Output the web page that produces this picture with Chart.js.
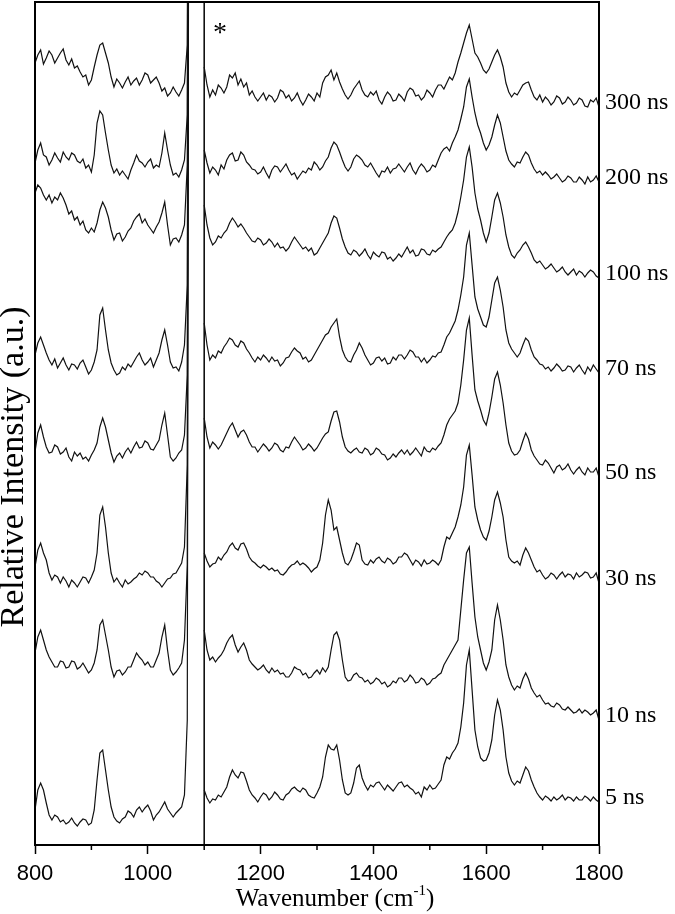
<!DOCTYPE html>
<html>
<head>
<meta charset="utf-8">
<script src="https://cdn.jsdelivr.net/npm/chart.js@4.4.0/dist/chart.umd.min.js"></script>
<style>
    html, body { margin: 0; padding: 0; background: #fff; }
    #wrap { width: 675px; height: 914px; }
</style>
</head>
<body>
<div id="wrap"><canvas id="myChart"></canvas></div>
<script>
// siatka liczb falowych (cm-1): 800-1065 co 5, zbocze pasma, przerwa 1087, potem 1100-1800 co 5
function range(a, b, step) {
    const out = [];
    for (let v = a; v <= b; v += step) out.push(v);
    return out;
}
const wavenumbers = [].concat(range(800, 1065, 5), [1070, 1074, 1087], range(1100, 1800, 5));

// intensywności (a.u., z przesunięciem pionowym)
const ns300 = [
    782, 790, 795, 781, 787, 794, 790, 782, 787, 792,
    796, 785, 780, 786, 777, 779, 773, 768, 770, 760,
    765, 778, 790, 800, 802, 792, 782, 768, 758, 766,
    762, 757, 763, 768, 760, 764, 767, 760, 765, 772,
    770, 762, 765, 768, 762, 754, 757, 749, 752, 758,
    753, 749, 755, 762, 800, 1500, null,
    778, 760, 748, 755, 750, 760, 757, 752, 758, 770,
    767, 772, 760, 766, 758, 762, 750, 754, 748, 744,
    748, 752, 745, 750, 748, 743, 747, 755, 753, 747,
    750, 744, 747, 752, 745, 740, 745, 751, 748, 744,
    752, 748, 762, 768, 770, 775, 765, 772, 763, 756,
    750, 746, 750, 756, 760, 764, 755, 750, 748, 753,
    750, 754, 745, 741, 748, 753, 750, 744, 745, 751,
    748, 744, 753, 757, 755, 749, 750, 745, 748, 755,
    752, 748, 755, 760, 760, 756, 762, 768, 765, 772,
    783, 792, 802, 812, 820, 806, 792, 788, 782, 775,
    772, 776, 783, 790, 795, 788, 778, 762, 753, 748,
    752, 750, 755, 760, 762, 763, 755, 748, 745, 750,
    743, 748, 745, 740, 743, 749, 747, 741, 743, 748,
    745, 740, 742, 747, 745, 739, 738, 745, 743, 747,
    738
];
const ns200 = [
    682, 695, 702, 690, 688, 680, 685, 692, 687, 683,
    693, 688, 685, 692, 690, 684, 682, 686, 677, 680,
    673, 690, 722, 734, 730, 712, 695, 680, 672, 676,
    670, 674, 670, 666, 675, 682, 690, 684, 682, 678,
    683, 686, 677, 680, 678, 692, 712, 695, 680, 670,
    672, 668, 675, 685, 730, 1500, null,
    695, 682, 672, 678, 675, 670, 680, 676, 685, 690,
    692, 684, 685, 693, 690, 683, 680, 676, 675, 671,
    673, 678, 672, 667, 675, 679, 678, 673, 677, 681,
    675, 670, 672, 666, 670, 674, 672, 677, 675, 683,
    680, 675, 678, 684, 688, 697, 703, 700, 693, 685,
    678, 674, 678, 686, 690, 688, 685, 680, 678, 682,
    677, 672, 668, 674, 673, 678, 672, 676, 677, 681,
    677, 673, 678, 682, 675, 671, 677, 681, 678, 673,
    675, 680, 678, 685, 692, 696, 698, 694, 702, 708,
    715, 726, 738, 758, 766, 748, 732, 720, 712, 702,
    695, 700, 708, 720, 730, 722, 708, 694, 685, 681,
    678, 683, 682, 688, 693, 690, 682, 676, 672, 674,
    670, 673, 670, 666, 668, 671, 667, 663, 665, 669,
    667, 663, 663, 668, 665, 661, 668, 663, 665, 669,
    663
];
const ns100 = [
    652, 660, 657, 650, 645, 650, 642, 648, 645, 652,
    647, 640, 631, 634, 625, 628, 620, 624, 615, 612,
    617, 613, 622, 635, 643, 637, 628, 615, 605, 611,
    612, 604, 608, 614, 617, 624, 628, 631, 622, 626,
    620, 616, 612, 618, 623, 632, 643, 620, 600, 606,
    607, 603, 610, 620, 680, 1500, null,
    640, 620, 607, 600, 603, 609, 607, 612, 615, 622,
    627, 623, 618, 621, 617, 612, 608, 604, 603, 607,
    605, 600, 602, 606, 603, 598, 602, 597, 598, 594,
    597, 603, 608, 604, 600, 596, 598, 594, 597, 590,
    592, 597, 602, 607, 612, 622, 629, 627, 617, 606,
    598, 592, 590, 595, 593, 589, 592, 596, 590, 586,
    593, 590, 588, 593, 592, 586, 588, 584, 587, 591,
    588, 593, 598, 592, 595, 589, 590, 596, 595, 591,
    590, 595, 593, 596, 598, 603, 608, 612, 615, 622,
    633, 648, 665, 688, 698, 678, 652, 636, 625, 612,
    603, 612, 628, 645, 652, 642, 628, 610, 598, 590,
    587, 592, 595, 600, 603, 598, 592, 585, 582, 584,
    580, 576, 578, 581, 577, 573, 575, 578, 573, 570,
    573, 576, 570, 574, 572, 568, 572, 575, 573, 569,
    567
];
const ns70 = [
    490, 502, 508, 500, 492, 485, 480, 486, 477, 482,
    487, 480, 475, 481, 480, 476, 482, 485, 478, 471,
    475, 483, 495, 530, 537, 515, 495, 482, 475, 470,
    472, 478, 475, 481, 478, 483, 488, 492, 485, 480,
    483, 487, 478, 485, 492, 505, 515, 500, 483, 477,
    478, 474, 483, 500, 560, 1500, null,
    522, 500, 485, 490, 487, 494, 492, 498, 502, 507,
    505, 500, 498, 504, 502, 496, 492, 487, 483, 488,
    485, 490, 487, 483, 488, 484, 485, 479, 482, 487,
    488, 493, 497, 494, 492, 486, 488, 483, 485, 490,
    495, 500, 505, 510, 512, 518, 522, 526, 508, 495,
    488, 484, 483, 490, 495, 502, 497, 490, 485, 480,
    482, 487, 488, 484, 487, 481, 482, 488, 485, 490,
    490, 486, 490, 495, 493, 488, 488, 483, 487, 482,
    485, 489, 488, 492, 493, 500, 508, 512, 518, 524,
    535, 550, 568, 600, 612, 580, 548, 536, 528, 520,
    518, 528, 545, 562, 568, 555, 538, 515, 502, 496,
    492, 488, 492, 500, 507, 504, 495, 488, 485, 481,
    480, 476, 478, 474, 477, 481, 478, 474, 475, 479,
    478, 473, 477, 480, 475, 471, 478, 474, 480, 476,
    472
];
const ns50 = [
    393, 412, 420, 408, 398, 392, 393, 400, 398, 391,
    393, 397, 388, 384, 393, 389, 392, 386, 388, 384,
    390, 395, 402, 418, 427, 418, 405, 392, 383, 389,
    392, 387, 393, 397, 392, 398, 403, 397, 398, 404,
    402, 396, 395, 400, 405, 420, 432, 410, 388, 384,
    387, 392, 395, 410, 470, 1500, null,
    427, 408, 397, 403, 400, 396, 400, 406, 412, 418,
    422, 415, 408, 413, 415, 410, 403, 398, 398, 393,
    397, 401, 398, 394, 397, 402, 400, 395, 393, 398,
    397, 403, 408, 404, 400, 395, 397, 401, 398, 394,
    397, 402, 407, 411, 413, 424, 433, 434, 423, 408,
    398, 394, 392, 395, 397, 393, 392, 397, 395, 390,
    392, 397, 395, 391, 390, 385, 387, 391, 388, 392,
    395, 391, 395, 390, 393, 397, 393, 389, 398, 394,
    393, 397, 395, 399, 402, 410, 420, 426, 430, 434,
    442, 460, 485, 515, 527, 490, 455, 444, 435, 425,
    420, 432, 448, 466, 473, 460, 442, 420, 402, 394,
    390, 391, 395, 404, 412, 406, 395, 389, 385, 381,
    380, 385, 382, 377, 372, 378, 380, 375, 377, 381,
    375, 371, 375, 378, 373, 370, 377, 373, 373, 377,
    368
];
const ns30 = [
    278, 295, 302, 292, 285, 272, 265, 270, 268, 262,
    268, 264, 258, 265, 262, 258, 263, 268, 267, 262,
    268, 275, 292, 330, 338, 318, 292, 272, 263, 267,
    262, 258, 265, 261, 263, 266, 268, 272, 270, 274,
    272, 268, 268, 264, 262, 258, 262, 266, 267, 271,
    272, 277, 282, 298, 380, 1500, null,
    292, 284, 278, 281, 282, 288, 285, 290, 293, 299,
    302, 297, 295, 301, 302, 296, 288, 284, 282, 279,
    277, 280, 278, 275, 277, 274, 275, 271, 270, 273,
    277, 280, 281, 284, 280, 282, 280, 277, 273, 276,
    278, 285, 302, 330, 345, 335, 315, 318, 305, 292,
    282, 280, 285, 293, 302, 300, 285, 281, 280, 285,
    282, 286, 288, 284, 282, 287, 285, 281, 283, 288,
    288, 292, 290, 285, 280, 285, 283, 279, 285, 281,
    282, 285, 283, 280, 285, 298, 308, 306, 312, 318,
    328, 340, 358, 390, 400, 370, 338, 325, 315, 308,
    305, 314, 328, 345, 353, 342, 328, 305, 288, 284,
    282, 284, 280, 290, 297, 292, 285, 278, 273, 275,
    270, 266, 268, 272, 270, 266, 270, 273, 268, 271,
    270, 266, 272, 268, 270, 273, 272, 267, 268, 272,
    262
];
const ns10 = [
    192, 208, 215, 205, 195, 188, 183, 178, 178, 184,
    183, 177, 178, 184, 183, 176, 178, 182, 177, 172,
    175, 182, 195, 220, 225, 210, 195, 178, 168, 174,
    175, 170, 173, 178, 178, 185, 192, 188, 185, 180,
    183, 178, 178, 185, 192, 208, 220, 195, 175, 170,
    173, 177, 182, 205, 280, 1500, null,
    215, 195, 185, 188, 183, 187, 190, 195, 202, 207,
    210, 200, 193, 198, 202, 195, 185, 181, 178, 175,
    177, 180, 175, 172, 177, 173, 175, 171, 172, 168,
    168, 172, 178, 176, 175, 170, 172, 167, 168, 172,
    175, 171, 177, 173, 178, 195, 210, 213, 205, 185,
    168, 164, 165, 170, 172, 168, 167, 163, 165, 161,
    163, 167, 165, 161, 163, 158, 160, 164, 162, 167,
    167, 163, 165, 170, 167, 162, 163, 167, 165, 160,
    162, 166, 167, 170, 172, 180, 185, 190, 195, 200,
    205, 235, 265, 292, 298, 262, 228, 208, 195, 182,
    175, 183, 195, 225, 240, 225, 205, 180, 168, 160,
    155, 159, 157, 166, 172, 166, 157, 152, 148, 150,
    145, 141, 142, 139, 138, 142, 140, 136, 135, 138,
    135, 132, 133, 136, 132, 135, 133, 130, 132, 135,
    125
];
const ns5 = [
    35, 55, 62, 55, 42, 30, 25, 30, 28, 23,
    25, 21, 23, 27, 22, 19, 23, 26, 25, 20,
    22, 35, 65, 92, 95, 75, 55, 38, 28, 24,
    22, 26, 28, 34, 32, 28, 35, 38, 33, 37,
    40, 34, 25, 30, 33, 38, 43, 36, 32, 28,
    32, 35, 38, 50, 125, 1500, null,
    55, 47, 42, 46, 45, 50, 48, 53, 58, 68,
    75, 70, 67, 73, 72, 64, 55, 50, 47, 43,
    48, 52, 50, 45, 48, 53, 50, 46, 45, 50,
    52, 56, 58, 55, 53, 57, 55, 50, 48, 47,
    52, 58, 68, 88, 100, 96, 95, 100, 85, 65,
    52, 50, 52, 62, 77, 80, 67, 60, 55, 60,
    58, 62, 63, 59, 55, 60, 57, 54, 58, 62,
    63, 58, 60, 57, 55, 51, 53, 48, 58, 55,
    60, 56, 57, 61, 65, 80, 88, 86, 92, 96,
    102, 118, 142, 180, 195, 155, 115, 98, 87, 84,
    85, 92, 105, 130, 145, 135, 115, 88, 72, 64,
    60, 64, 62, 70, 78, 74, 65, 58, 52, 48,
    45, 49, 47, 44, 48, 45, 47, 50, 45, 48,
    47, 44, 48, 45, 45, 49, 47, 44, 48, 45,
    43
];

const traceNames = ['300 ns', '200 ns', '100 ns', '70 ns', '50 ns', '30 ns', '10 ns', '5 ns'];
const traces = [ns300, ns200, ns100, ns70, ns50, ns30, ns10, ns5];
const breakAt = 1100;   // pionowa linia przerwy
const xTicksMajor = [800, 1000, 1200, 1400, 1600, 1800];
const xTicksMinor = [900, 1100, 1300, 1500, 1700];

const serif = '"Liberation Serif", "Times New Roman", serif';

// podpisy, ramka, tytuły osi
const decorPlugin = {
    id: 'decor',
    afterDraw(chart) {
        const ctx = chart.ctx;
        const a = chart.chartArea;
        const xs = chart.scales.x;
        const ys = chart.scales.y;
        ctx.save();
        ctx.strokeStyle = '#000';
        ctx.lineWidth = 2;
        ctx.strokeRect(a.left, a.top, a.right - a.left, a.bottom - a.top);

        // minor ticks
        ctx.lineWidth = 1.5;
        xTicksMinor.forEach(v => {
            const px = xs.getPixelForValue(v);
            ctx.beginPath();
            ctx.moveTo(px, a.bottom);
            ctx.lineTo(px, a.bottom + 5);
            ctx.stroke();
        });

        ctx.fillStyle = '#000';
        // etykiety serii po prawej
        ctx.font = '24px ' + serif;
        ctx.textAlign = 'left';
        ctx.textBaseline = 'middle';
        traces.forEach((t, i) => {
            const py = ys.getPixelForValue(t[t.length - 1]) - 4;
            ctx.fillText(traceNames[i], a.right + 6, py);
        });

        // gwiazdka
        ctx.font = '28px ' + serif;
        ctx.textAlign = 'center';
        ctx.textBaseline = 'top';
        ctx.fillText('*', xs.getPixelForValue(1128), a.top + 18);

        // tytuł osi X z indeksem górnym
        const mainFont = '25px ' + serif;
        const supFont = '15px ' + serif;
        ctx.textBaseline = 'alphabetic';
        ctx.textAlign = 'left';
        ctx.font = mainFont;
        const p1 = 'Wavenumber (cm', p3 = ')';
        const w1 = ctx.measureText(p1).width;
        const w3 = ctx.measureText(p3).width;
        ctx.font = supFont;
        const w2 = ctx.measureText('-1').width;
        let x0 = (a.left + a.right) / 2 + 18 - (w1 + w2 + w3) / 2;
        const base = 906;
        ctx.font = mainFont;
        ctx.fillText(p1, x0, base);
        ctx.font = supFont;
        ctx.fillText('-1', x0 + w1, base - 11);
        ctx.font = mainFont;
        ctx.fillText(p3, x0 + w1 + w2, base);

        // tytuł osi Y
        ctx.translate(14, 467);
        ctx.rotate(-Math.PI / 2);
        ctx.font = '34px ' + serif;
        ctx.textAlign = 'center';
        ctx.textBaseline = 'middle';
        ctx.fillText('Relative Intensity (a.u.)', 0, 0);
        ctx.restore();
    }
};

document.addEventListener('DOMContentLoaded', function () {
    const datasets = traces.map((t, i) => ({
        label: traceNames[i],
        data: t.map((v, j) => ({ x: wavenumbers[j], y: v })),
        borderColor: '#111',
        borderWidth: 1.2,
        pointRadius: 0,
        tension: 0,
        spanGaps: false
    }));
    datasets.push({
        label: 'break',
        data: [{ x: breakAt, y: -100 }, { x: breakAt, y: 2000 }],
        borderColor: '#111',
        borderWidth: 1.6,
        pointRadius: 0
    });

    const ctx = document.getElementById('myChart').getContext('2d');
    const myChart = new Chart(ctx, {
        type: 'line',
        data: { datasets: datasets },
        options: {
            responsive: true,
            maintainAspectRatio: false,
            animation: false,
            layout: { padding: { top: 2, right: 76, left: 0, bottom: 0 } },
            plugins: {
                legend: { display: false },
                tooltip: { enabled: false }
            },
            scales: {
                x: {
                    type: 'linear',
                    min: 800,
                    max: 1800,
                    afterBuildTicks: s => { s.ticks = xTicksMajor.map(v => ({ value: v })); },
                    afterFit: s => { s.height = 69; },
                    border: { display: true, color: '#000', width: 2 },
                    grid: { drawOnChartArea: false, drawTicks: true, tickLength: 9, tickWidth: 1.5, tickColor: '#000' },
                    ticks: {
                        color: '#000',
                        padding: 7,
                        maxRotation: 0,
                        callback: v => String(v),
                        font: { family: '"Liberation Sans", Arial, sans-serif', size: 22 }
                    }
                },
                y: {
                    min: 0,
                    max: 843,
                    afterFit: s => { s.width = 35; },
                    border: { display: true, color: '#000', width: 2 },
                    grid: { display: false },
                    ticks: { display: false }
                }
            }
        },
        plugins: [decorPlugin]
    });
});
</script>
</body>
</html>
